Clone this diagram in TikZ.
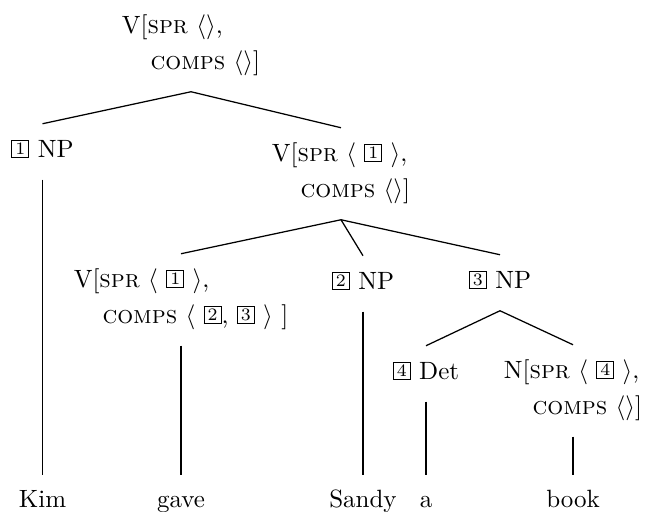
\documentclass[tikz,border=0pt]{standalone}
\usepackage{tikz}
\usetikzlibrary{positioning,calc}
\colorlet{ink}{black}
% boxed tags and feature names
\newcommand{\tagbox}[1]{{\setlength{\fboxsep}{0.9pt}\raisebox{1.3pt}{\fbox{\makebox[4.6pt]{\scriptsize #1}}}}}
\newcommand{\feat}[1]{\textsc{#1}}
\newcommand{\avmind}{\hspace*{11.5pt}}
\tikzset{
  % --- nodes
  cat/.style  = {anchor=base, inner xsep=0pt, inner ysep=6pt, text height=7.5pt, text depth=2.5pt},
  avm/.style  = {anchor=base, inner xsep=0pt, inner ysep=6pt, align=left},
  leaf/.style = {anchor=base, inner xsep=0pt, inner ysep=6pt, text height=6.9pt},
  % --- edges
  br/.style   = {draw=ink, line width=0.5pt},
}
\begin{document}
\begin{tikzpicture}[x=0.4pt,y=-0.4pt]
  \useasboundingbox (0,0) rectangle (648,512);
  % categories (avm nodes sit on their last line)
  \node[avm] (root) at (191,70)
    {V[\feat{spr} $\langle\rangle$,\\[2.4pt]\avmind\feat{comps} $\langle\rangle$]};
  \node[cat] (np1) at (42.5,158) {\tagbox{1} NP};
  \node[avm] (vp2) at (341,198)
    {V[\feat{spr} $\langle$ \tagbox{1} $\rangle$,\\[2.4pt]\avmind\feat{comps} $\langle\rangle$]};
  \node[avm] (vp3) at (181,324)
    {V[\feat{spr} $\langle$ \tagbox{1} $\rangle$,\\[2.4pt]\avmind\feat{comps} $\langle$ \tagbox{2}, \tagbox{3} $\rangle$ ]};
  \node[cat] (np2) at (363,290) {\tagbox{2} NP};
  \node[cat] (np3) at (500,289) {\tagbox{3} NP};
  \node[cat] (det) at (426,380) {\tagbox{4} Det};
  \node[avm] (nbar) at (573,415)
    {N[\feat{spr} $\langle$ \tagbox{4} $\rangle$,\\[2.4pt]\avmind\feat{comps} $\langle\rangle$]};
  % words
  \foreach \nm/\x/\w in {kim/42.5/Kim, gave/181/gave, sandy/363/Sandy, a/426/a, book/573/book}
    \node[leaf] (\nm) at (\x,508) {\w};
  % branches
  \draw[br] (root.south) -- (np1.north);
  \draw[br] (root.south) -- (vp2.north);
  \draw[br] (np1.south) -- (kim.north);
  \foreach \ch in {vp3,np2,np3}
    \draw[br] (vp2.south) -- (\ch.north);
  \draw[br] (vp3.south) -- (gave.north);
  \draw[br] (np2.south) -- (sandy.north);
  \draw[br] (np3.south) -- (det.north);
  \draw[br] (np3.south) -- (nbar.north);
  \draw[br] (det.south) -- (a.north);
  \draw[br] (nbar.south) -- (book.north);
\end{tikzpicture}
\end{document}
